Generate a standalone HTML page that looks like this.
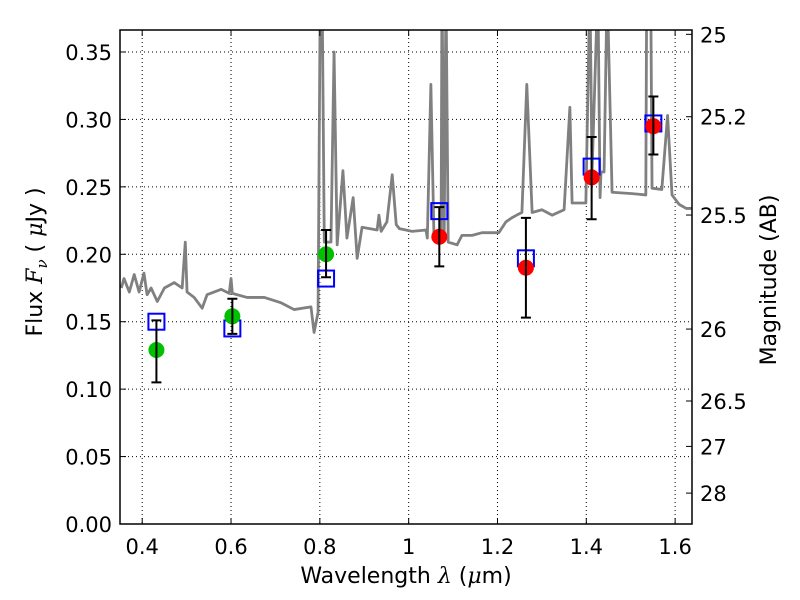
<!DOCTYPE html>
<html><head><meta charset="utf-8"><style>
html,body{margin:0;padding:0;background:#fff;}
svg{display:block;font-family:"DejaVu Sans","Liberation Sans",sans-serif;}
</style></head><body>
<svg id="chart" width="800" height="600" viewBox="0 0 800 600" xmlns="http://www.w3.org/2000/svg">
<defs><clipPath id="pc"><rect x="120" y="30" width="572" height="494"/></clipPath></defs>
<rect width="800" height="600" fill="#fff"/>
<g id="grid"></g>
<g id="spec" clip-path="url(#pc)"></g>
<g id="marks"></g>
<g id="axes"></g>
<text x="406" y="583" font-size="22" text-anchor="middle">Wavelength  <tspan font-family="'DejaVu Serif',serif" font-style="italic">λ</tspan> (<tspan font-family="'DejaVu Serif',serif" font-style="italic">μ</tspan>m)</text>
<text transform="translate(42,262) rotate(-90)" font-size="22" text-anchor="middle">Flux  <tspan font-family="'DejaVu Serif',serif" font-style="italic">F</tspan><tspan font-family="'DejaVu Serif',serif" font-style="italic" font-size="15" dy="5">ν</tspan><tspan dy="-5">  ( </tspan><tspan font-family="'DejaVu Serif',serif" font-style="italic">μ</tspan>Jy )</text>
<text transform="translate(776,280) rotate(-90)" font-size="22" text-anchor="middle">Magnitude (AB)</text>
</svg>
<script>
const specLam=[0.353,0.359,0.371,0.382,0.393,0.404,0.411,0.420,0.434,0.450,0.472,0.490,0.497,0.501,0.517,0.535,0.546,0.578,0.596,0.600,0.603,0.636,0.675,0.713,0.742,0.780,0.787,0.796,0.801,0.805,0.810,0.825,0.832,0.839,0.852,0.861,0.875,0.884,0.895,0.929,0.933,0.938,0.951,0.963,0.972,0.979,1.008,1.039,1.042,1.050,1.057,1.073,1.075,1.080,1.084,1.089,1.109,1.120,1.143,1.165,1.203,1.219,1.232,1.243,1.255,1.266,1.278,1.300,1.323,1.350,1.363,1.368,1.399,1.408,1.413,1.426,1.431,1.433,1.440,1.447,1.458,1.503,1.534,1.536,1.545,1.548,1.570,1.583,1.593,1.609,1.625,1.638];
const specFlux=[0.175,0.182,0.172,0.185,0.172,0.186,0.170,0.175,0.165,0.175,0.179,0.175,0.209,0.172,0.168,0.160,0.170,0.174,0.171,0.182,0.171,0.168,0.168,0.164,0.159,0.161,0.142,0.157,0.40,0.40,0.209,0.209,0.350,0.207,0.262,0.212,0.242,0.197,0.220,0.218,0.229,0.217,0.224,0.259,0.222,0.219,0.217,0.218,0.212,0.326,0.212,0.212,0.40,0.212,0.40,0.209,0.207,0.214,0.214,0.216,0.216,0.224,0.227,0.229,0.231,0.326,0.231,0.233,0.229,0.233,0.309,0.238,0.238,0.40,0.261,0.40,0.242,0.261,0.261,0.40,0.246,0.245,0.244,0.40,0.40,0.249,0.248,0.303,0.244,0.237,0.234,0.234];
const obsLam=[0.432,0.603,0.814,1.069,1.264,1.412,1.551];
const obsFlux=[0.129,0.154,0.200,0.213,0.190,0.257,0.295];
const errLo=[0.105,0.141,0.183,0.191,0.153,0.226,0.274];
const errHi=[0.151,0.167,0.218,0.235,0.227,0.287,0.317];
const obsColor=['#00c000','#00c000','#00c000','#ff0000','#ff0000','#ff0000','#ff0000'];
const modelFlux=[0.150,0.145,0.182,0.232,0.197,0.265,0.297];
const xTicks=[0.4,0.6,0.8,1.0,1.2,1.4,1.6];
const xTickLabels=['0.4','0.6','0.8','1','1.2','1.4','1.6'];
const yTicks=[0,0.05,0.10,0.15,0.20,0.25,0.30,0.35];
const yTickLabels=['0.00','0.05','0.10','0.15','0.20','0.25','0.30','0.35'];
const magTicks=[25,25.2,25.5,26,26.5,27,28];
const magTickLabels=['25','25.2','25.5','26','26.5','27','28'];

const L=120,R=692,T=30,B=524,X0=0.35,X1=1.638,Y0=0,Y1=0.3663;
const sx=v=>L+(v-X0)/(X1-X0)*(R-L);
const sy=v=>B-(v-Y0)/(Y1-Y0)*(B-T);
const magToFlux=m=>Math.pow(10,(23.9-m)/2.5);
const NS='http://www.w3.org/2000/svg';
function mk(tag,parent,attrs){const e=document.createElementNS(NS,tag);for(const k in attrs)e.setAttribute(k,attrs[k]);parent.appendChild(e);return e;}
const grid=document.getElementById('grid'),spec=document.getElementById('spec'),marks=document.getElementById('marks'),axes=document.getElementById('axes');
const dash={stroke:'#000','stroke-width':1,'stroke-dasharray':'1,3'};
xTicks.forEach(v=>{const g=mk('line',grid,Object.assign({x1:sx(v),x2:sx(v),y1:T,y2:B},dash));

});
yTicks.forEach(v=>{const g=mk('line',grid,Object.assign({x1:L,x2:R,y1:sy(v),y2:sy(v)},dash));

});
const pl=mk('polyline',spec,{points:specLam.map((l,i)=>sx(l)+','+sy(specFlux[i])).join(' '),fill:'none',stroke:'#808080','stroke-width':2.8,'stroke-linejoin':'round'});


obsLam.forEach((l,i)=>{
 const s=mk('rect',marks,{x:sx(l)-8,y:sy(modelFlux[i])-8,width:16,height:16,fill:'none',stroke:'#0000ff','stroke-width':2});
 
 
 const c=mk('circle',marks,{cx:sx(l),cy:sy(obsFlux[i]),r:8,fill:obsColor[i]});
 
 
 const e=mk('path',marks,{d:`M${sx(l)},${sy(errLo[i])}V${sy(errHi[i])}M${sx(l)-5},${sy(errLo[i])}h10M${sx(l)-5},${sy(errHi[i])}h10`,stroke:'#000','stroke-width':2,fill:'none'});
 
 
});
const fr=mk('rect',axes,{x:L,y:T,width:R-L,height:B-T,fill:'none',stroke:'#000','stroke-width':1.5});


xTicks.forEach((v,i)=>{
 mk('path',axes,{d:`M${sx(v)},${B}v-6M${sx(v)},${T}v6`,stroke:'#000','stroke-width':1});
 const t=mk('text',axes,{x:sx(v),y:B+30,'font-size':21,'text-anchor':'middle'});t.textContent=xTickLabels[i];
 
 
});
yTicks.forEach((v,i)=>{
 mk('path',axes,{d:`M${L},${sy(v)}h6`,stroke:'#000','stroke-width':1});
 const t=mk('text',axes,{x:L-8,y:sy(v)+8,'font-size':21,'text-anchor':'end'});t.textContent=yTickLabels[i];
 
 
});
magTicks.forEach((m,i)=>{
 const y=sy(magToFlux(m));
 mk('path',axes,{d:`M${R},${y}h-6`,stroke:'#000','stroke-width':1});
 const t=mk('text',axes,{x:R+8,y:y+8,'font-size':21,'text-anchor':'start'});t.textContent=magTickLabels[i];
 
 
});
</script>
</body></html>
